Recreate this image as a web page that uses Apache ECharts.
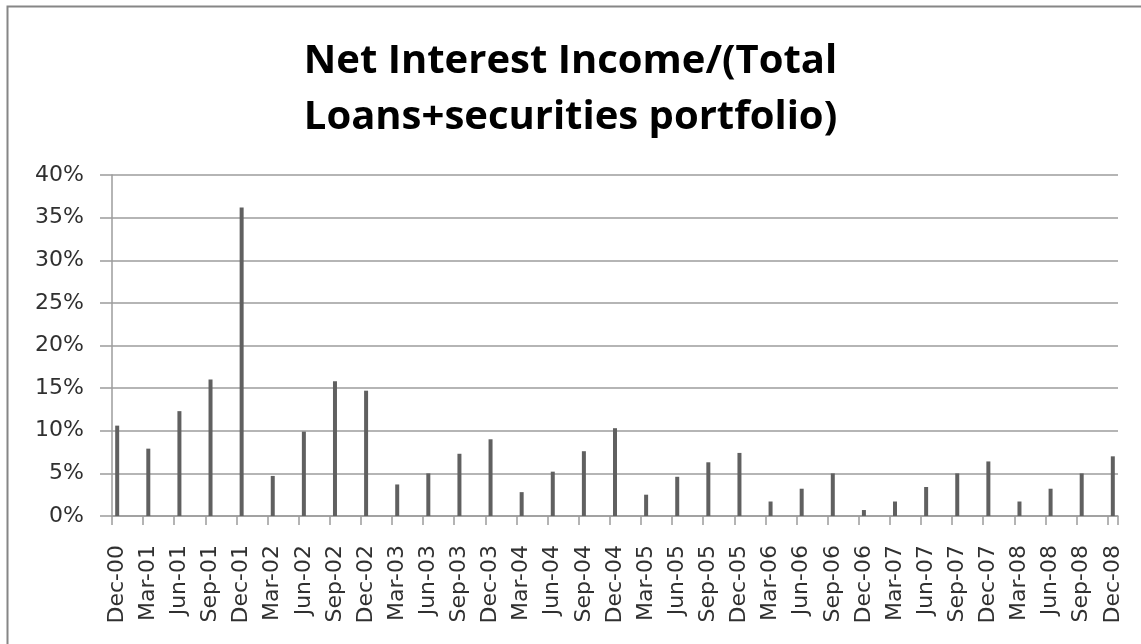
<!DOCTYPE html>
<html>
<head>
<meta charset="utf-8">
<script src="https://cdn.jsdelivr.net/npm/echarts@6/dist/echarts.min.js"></script>
<style>
  html, body { margin: 0; padding: 0; background: #fff; }
  #chart { width: 1141px; height: 644px; }
</style>
</head>
<body>
<div id="chart"></div>
<script>
// Quarterly categories (as printed on the axis)
const categories = [
  'Dec-00','Mar-01','Jun-01','Sep-01','Dec-01','Mar-02','Jun-02','Sep-02','Dec-02',
  'Mar-03','Jun-03','Sep-03','Dec-03','Mar-04','Jun-04','Sep-04','Dec-04',
  'Mar-05','Jun-05','Sep-05','Dec-05','Mar-06','Jun-06','Sep-06','Dec-06',
  'Mar-07','Jun-07','Sep-07','Dec-07','Mar-08','Jun-08','Sep-08','Dec-08'
];
// Net interest income / (total loans + securities portfolio), in %
const values = [
  10.6, 7.9, 12.3, 16.0, 36.2, 4.7, 9.9, 15.8, 14.7,
  3.7, 5.0, 7.3, 9.0, 2.8, 5.2, 7.6, 10.3,
  2.5, 4.6, 6.3, 7.4, 1.7, 3.2, 5.0, 0.7,
  1.7, 3.4, 5.0, 6.4, 1.7, 3.2, 5.0, 7.0
];
// Y axis ticks (percent)
const yMin = 0, yMax = 40, yStep = 5;
const titleText = 'Net Interest Income/(Total\nLoans+securities portfolio)';

// Excel-style date axis: one slot per month, a labelled tick every quarter
const monthSlots = [];
const monthValues = [];
categories.forEach((c, i) => {
  monthSlots.push(c);
  monthValues.push(values[i]);
  if (i < categories.length - 1) {
    monthSlots.push(c + ' +1m', c + ' +2m');
    monthValues.push(null, null);
  }
});
const isQuarter = (idx) => idx % 3 === 0;

const chart = echarts.init(document.getElementById('chart'), null, { renderer: 'canvas' });
const gridColor = '#9c9c9c';
const textColor = '#303030';
const labelFont = 'DejaVu Sans, Verdana, sans-serif';

chart.setOption({
  backgroundColor: '#ffffff',
  animation: false,
  graphic: [{
    type: 'rect',
    left: 5, top: 4,
    shape: { width: 1200, height: 700 },
    style: { fill: 'none', stroke: '#868686', lineWidth: 2 },
    silent: true, z: -10
  }],
  title: {
    text: titleText,
    left: 'center',
    top: 29,
    textStyle: {
      fontFamily: 'Open Sans, sans-serif',
      fontWeight: 'bold',
      fontSize: 40,
      lineHeight: 56,
      color: '#000000'
    }
  },
  grid: { left: 112, right: 23, top: 175, bottom: 128, containLabel: false },
  xAxis: {
    type: 'category',
    data: monthSlots,
    boundaryGap: true,
    axisLine: { show: true, lineStyle: { color: gridColor, width: 1.5 } },
    axisTick: { show: true, interval: isQuarter, alignWithLabel: false, length: 9, lineStyle: { color: gridColor, width: 1.5 } },
    axisLabel: {
      interval: isQuarter,
      rotate: 90,
      margin: 29,
      fontFamily: labelFont,
      fontSize: 22,
      color: textColor
    },
    splitLine: { show: false }
  },
  yAxis: {
    type: 'value',
    min: yMin, max: yMax, interval: yStep,
    axisLine: { show: true, lineStyle: { color: gridColor, width: 1.5 } },
    axisTick: { show: true, inside: false, length: 12, lineStyle: { color: gridColor, width: 1.5 } },
    axisLabel: {
      formatter: '{value}%',
      margin: 28,
      fontFamily: labelFont,
      fontSize: 22,
      color: textColor
    },
    splitLine: { show: true, lineStyle: { color: gridColor, width: 1.5 } }
  },
  series: [{
    type: 'bar',
    data: monthValues,
    barWidth: 4,
    itemStyle: { color: '#606060' }
  }]
});
</script>
</body>
</html>
